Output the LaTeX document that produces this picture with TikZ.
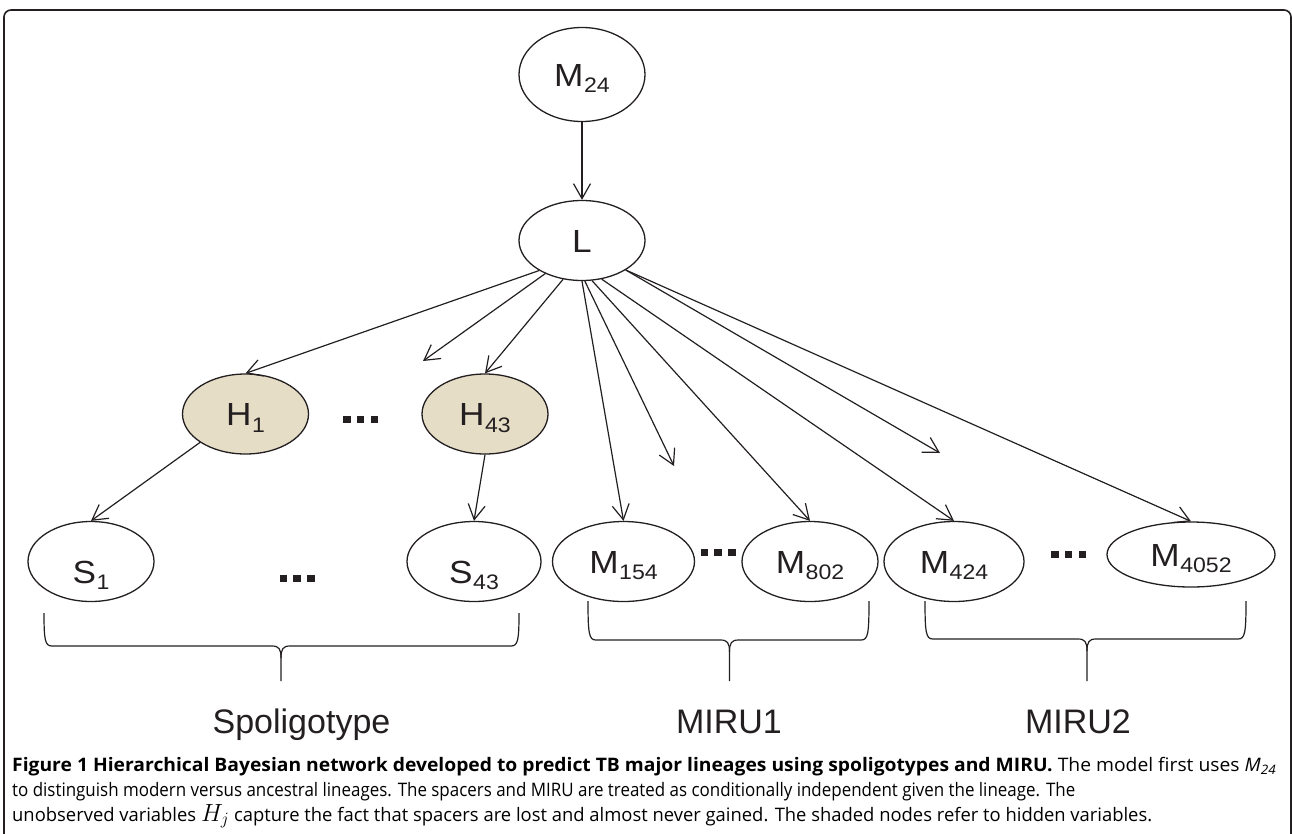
\documentclass[tikz,border=0pt]{standalone}
\usepackage{fontspec}
\usepackage{graphicx}
\setmainfont{Liberation Sans}
\newfontfamily\capfont{Open Sans}
\usetikzlibrary{shapes.geometric,arrows.meta}
\definecolor{hiddenfill}{RGB}{230,221,199}
\definecolor{ink}{RGB}{35,31,32}
\newcommand{\nlab}[2]{\scalebox{1.1}[1]{#1\kern0.5pt\raisebox{-6.5pt}{\fontsize{21}{21}\selectfont #2}}}
\newcommand{\tridots}[2]{%
  \foreach \k in {-13.75,0,13.75}{\fill[ink] (#1+\k-3.75,#2-3.5) rectangle (#1+\k+3.75,#2+3.5);}}
\newcommand{\bracepath}[6]{% xl, xr, ytop, yh, xc, ytip
  \draw[bracestyle] (#1,#3) .. controls (#1,#4-6) and (#1+1,#4) .. (#1+8,#4)
    -- (#5-9,#4) .. controls (#5-2,#4) and (#5,#4+3) .. (#5,#4+12) -- (#5,#6);
  \draw[bracestyle] (#2,#3) .. controls (#2,#4-6) and (#2-1,#4) .. (#2-8,#4)
    -- (#5+9,#4) .. controls (#5+2,#4) and (#5,#4+3) .. (#5,#4+12);}
\tikzset{
  var/.style={ellipse, draw=ink, line width=1.3pt, inner sep=0pt,
    minimum width=126pt, minimum height=80pt,
    font=\fontsize{32}{34}\selectfont, text=ink, text height=23pt, text depth=0pt},
  hid/.style={var, fill=hiddenfill},
  arr/.style={draw=ink, line width=1.2pt, -{Straight Barb[length=15pt,width=17pt]}},
  bracestyle/.style={draw=ink, line width=1.2pt},
  grp/.style={font=\fontsize{34}{36}\selectfont, text=ink, anchor=base, inner sep=0pt},
  capline/.style={anchor=base west, inner sep=0pt, text=black},
  framebox/.style={draw=ink, line width=1.6pt, rounded corners=7pt},
}
\begin{document}
\begin{tikzpicture}[x=1pt,y=-1pt]
\useasboundingbox (0,0) rectangle (1292,833);
\draw[framebox] (4,10) rectangle (1291,900);

% nodes
\node[var, minimum height=94pt] (M24) at (582,74.5) {\nlab{M}{24}};
\node[var] (L) at (582,240.5) {\scalebox{1.1}[1]{L}};
\node[hid] (H1) at (245.5,414) {\nlab{H}{1}};
\node[hid] (H43) at (485,414) {\nlab{H}{43}};
\node[var, text height=43pt] (S1) at (91,561.5) {\nlab{S}{1}};
\node[var, text height=43pt, minimum width=134pt] (S43) at (474,561.5) {\nlab{S}{43}};
\node[var, minimum width=142pt] (M154) at (623.5,561.5) {\nlab{M}{154}};
\node[var, minimum width=136pt] (M802) at (810,561.5) {\nlab{M}{802}};
\node[var, minimum width=140pt] (M424) at (954,561.5) {\nlab{M}{424}};
\node[var, minimum width=168pt, minimum height=65pt] (M4052) at (1191,554.5) {\nlab{M}{4052}};

\coordinate (p1) at (423,361);
\coordinate (p2) at (674,466);
\coordinate (p3) at (940,453);

% dots
\tridots{360.5}{419}
\tridots{297}{578.5}
\tridots{718}{552}
\tridots{1068.5}{554}

% arrows
\draw[arr] (M24) -- (L);
\draw[arr] (L.215.5) -- (H1.north);
\draw[arr] (L.222) -- (p1);
\draw[arr] (L.244) -- (H43.north);
\draw[arr] (L.270) -- (M154.north);
\draw[arr] (L.274) -- (p2);
\draw[arr] (L.284) -- (M802.north);
\draw[arr] (L.297) -- (M424.north);
\draw[arr] (L.326) -- (p3);
\draw[arr] (L.326) -- (M4052.north);
\draw[arr] (H1.212.8) -- (S1.north);
\draw[arr] (H43.south) -- (S43.north);

% braces
\bracepath{44}{519}{613}{646}{281}{681}
\bracepath{588}{869}{601}{640}{729.5}{681}
\bracepath{925}{1246}{601}{639}{1087}{681}

% group labels
\node[grp] (spol) at (301.5,733) {Spoligotype};
\node[grp] (miru1) at (729,733) {MIRU1};
\node[grp] (miru2) at (1078,733) {MIRU2};

% caption
\node[capline] (cap1) at (12,771.5) {\resizebox{1264pt}{\height}{\capfont\fontsize{18.6}{22}\selectfont\textbf{Figure 1 Hierarchical Bayesian network developed to predict TB major lineages using spoligotypes and MIRU.} The model first uses \textit{M}\textsubscript{\textit{24}}}};
\node[capline] (cap2) at (12,796.5) {\resizebox{1063pt}{\height}{\capfont\fontsize{18.6}{22}\selectfont to distinguish modern versus ancestral lineages. The spacers and MIRU are treated as conditionally independent given the lineage. The}};
\node[capline] (cap3) at (12,821) {\resizebox{1140pt}{\height}{\capfont\fontsize{18.6}{22}\selectfont unobserved variables {\fontsize{24}{24}\selectfont$H_j$} capture the fact that spacers are lost and almost never gained. The shaded nodes refer to hidden variables.}};
\end{tikzpicture}
\end{document}
